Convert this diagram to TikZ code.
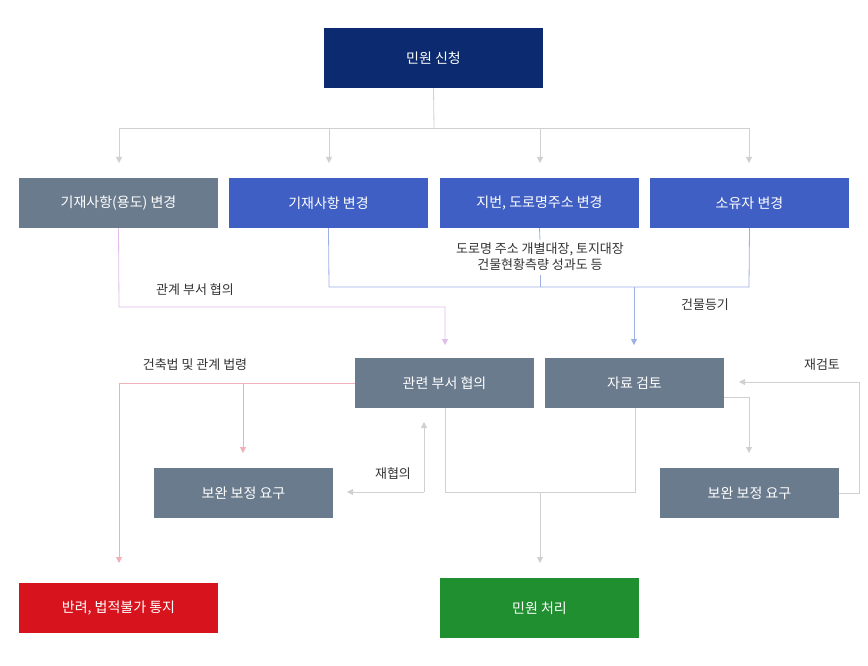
\documentclass[tikz,border=0pt]{standalone}
\usepackage{fontspec}
\setmainfont{Noto Sans CJK KR}
\usetikzlibrary{arrows.meta}
\definecolor{navy}{HTML}{0B2A6F}
\definecolor{gbox}{HTML}{6B7B8E}
\definecolor{bbox}{HTML}{3F5FC4}
\definecolor{rbox}{HTML}{D7141D}
\definecolor{grbox}{HTML}{1F8F30}
\definecolor{lgray}{HTML}{D0D0D0}
\definecolor{lpink}{HTML}{E2BCEA}
\definecolor{lblue}{HTML}{9DB0E6}
\definecolor{lred}{HTML}{F0B0B8}
\begin{document}
\begin{tikzpicture}[x=1pt,y=-1pt,
  box/.style={draw=none,text=white,minimum width=199pt,minimum height=50pt,inner sep=0pt,font=\fontsize{14}{16}\selectfont},
  lab/.style={text=black!80,font=\fontsize{13}{16}\selectfont,inner sep=0pt},
  ln/.style={line width=0.8pt},
  tip/.style={-{Triangle[width=6pt,length=6pt]}}]
\useasboundingbox[fill=white] (0,0) rectangle (868,666);
\node[box,fill=navy,minimum width=219pt,minimum height=60pt] (req) at (433.5,58) {민원 신청};
\node[box,fill=gbox] (a) at (118.5,203) {기재사항(용도) 변경};
\node[box,fill=bbox] (b) at (328.5,203) {기재사항 변경};
\node[box,fill=bbox] (c) at (539.5,203) {지번, 도로명주소 변경};
\node[box,fill=bbox] (d) at (749.5,203) {소유자 변경};
\node[box,fill=gbox,minimum width=179pt] (dept) at (444.5,383) {관련 부서 협의};
\node[box,fill=gbox,minimum width=179pt] (rev) at (634.5,383) {자료 검토};
\node[box,fill=gbox,minimum width=179pt] (supL) at (243.5,493) {보완 보정 요구};
\node[box,fill=gbox,minimum width=179pt] (supR) at (749.5,493) {보완 보정 요구};
\node[box,fill=rbox] (rej) at (118.5,608) {반려, 법적불가 통지};
\node[box,fill=grbox,minimum height=60pt] (done) at (539.5,608) {민원 처리};
% top tree
\coordinate (t0) at (434,128);
\draw[ln,lgray] (req.south) -- (t0);
\draw[ln,lgray] (119,128) -- (749,128);
\foreach \x/\n in {119/a,329/b,540/c,749/d} \draw[ln,lgray,tip] (\x,128) -- (\x,163);
% pink
\draw[ln,lpink,tip] (a.south) -- (119,307) -- (445,307) -- (445,345);
% blue
\draw[ln,lblue] (b.south) -- (329,287) -- (749,287) -- (d.south);
\draw[ln,lblue] (c.south) -- (540,240);
\draw[ln,lblue] (540,275) -- (540,287);
\draw[ln,lblue,tip] (634,287) -- (634,345);
\node[lab,fill=white,inner sep=2pt,align=center] (note) at (540,257) {도로명 주소 개별대장, 토지대장\\건물현황측량 성과도 등};
\node[lab] (l1) at (705,305) {건물등기};
\node[lab] (l2) at (195,290) {관계 부서 협의};
\node[lab] (l3) at (195,365) {건축법 및 관계 법령};
\node[lab] (l4) at (822,365) {재검토};
\node[lab] (l5) at (393,474) {재협의};
% red
\draw[ln,lred,tip] (dept.west) -- (119,383) -- (119,563);
\draw[ln,lred,tip] (243,383) -- (243,453);
% gray lower
\draw[ln,lgray] (445,408) -- (445,492) -- (635,492) -- (635,408);
\draw[ln,lgray,tip] (540,492) -- (540,563);
\draw[ln,lgray,tip] (424,492) -- (424,422);
\draw[ln,lgray,tip] (424,492) -- (347,492);
\draw[ln,lgray,tip] (724,397) -- (749,397) -- (749,453);
\draw[ln,lgray,tip] (supR.east) -- (859,493) -- (859,382) -- (739,382);
\end{tikzpicture}
\end{document}
